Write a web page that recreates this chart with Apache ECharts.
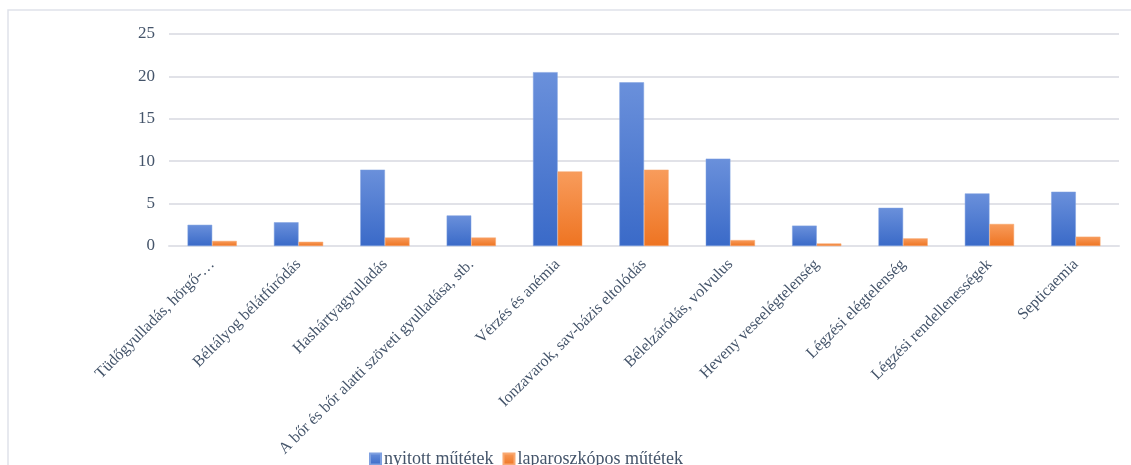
<!DOCTYPE html>
<html>
<head>
<meta charset="utf-8">
<script src="https://cdn.jsdelivr.net/npm/echarts@6/dist/echarts.min.js"></script>
<style>
html, body { margin: 0; padding: 0; background: #fff; }
#main { width: 1131px; height: 465px; }
</style>
</head>
<body>
<div id="main"></div>
<script>
var categories = [
    'Tüdőgyulladás, hörgő-…',
    'Béltályog bélátfúródás',
    'Hashártyagyulladás',
    'A bőr és bőr alatti szöveti gyulladása, stb.',
    'Vérzés és anémia',
    'Ionzavarok, sav-bázis eltolódás',
    'Bélelzáródás, volvulus',
    'Heveny veseelégtelenség',
    'Légzési elégtelenség',
    'Légzési rendellenességek',
    'Septicaemia'
];
var seriesNames = ['nyitott műtétek', 'laparoszkópos műtétek'];
var nyitott = [2.5, 2.8, 9.0, 3.6, 20.5, 19.3, 10.3, 2.4, 4.5, 6.2, 6.4];
var laparoszkopos = [0.6, 0.5, 1.0, 1.0, 8.8, 9.0, 0.7, 0.3, 0.9, 2.6, 1.1];
var yTicks = [0, 5, 10, 15, 20, 25];

var textColor = '#44546a';
var serif = '"Liberation Serif", "DejaVu Serif", serif';

var chart = echarts.init(document.getElementById('main'));

function grad(top, bottom) {
    return new echarts.graphic.LinearGradient(0, 0, 0, 1, [
        { offset: 0, color: top },
        { offset: 1, color: bottom }
    ]);
}

var option = {
    animation: false,
    backgroundColor: '#fff',
    graphic: [{
        type: 'rect',
        shape: { x: 8, y: 10, width: 1130, height: 470 },
        style: { fill: 'none', stroke: '#dfe2ea', lineWidth: 1.5 },
        silent: true
    }],
    legend: {
        left: 364,
        top: 445,
        itemWidth: 11,
        itemHeight: 11,
        itemGap: 9,
        icon: 'rect',
        textStyle: { color: textColor, fontFamily: serif, fontSize: 18, padding: [0, 0, 0, -2] },
        data: seriesNames
    },
    grid: {
        left: 169,
        right: 12,
        top: 34,
        bottom: 219
    },
    xAxis: {
        type: 'category',
        data: categories,
        axisLine: { lineStyle: { color: '#e1e2e8', width: 2 } },
        axisTick: { show: false },
        axisLabel: {
            rotate: 45,
            interval: 0,
            margin: 16,
            color: textColor,
            fontFamily: serif,
            fontSize: 16
        }
    },
    yAxis: {
        type: 'value',
        min: yTicks[0],
        max: yTicks[yTicks.length - 1],
        interval: 5,
        axisLine: { show: false },
        axisTick: { show: false },
        axisLabel: {
            color: textColor,
            fontFamily: serif,
            fontSize: 17,
            margin: 14
        },
        splitLine: { lineStyle: { color: '#e1e2e8', width: 2 } }
    },
    series: [
        {
            name: seriesNames[0],
            type: 'bar',
            data: nyitott,
            barGap: '0%',
            barCategoryGap: '43%',
            itemStyle: {
                color: grad('#6a90db', '#3a6ac8'),
                borderColor: '#7fa0e0',
                borderWidth: 0.5
            }
        },
        {
            name: seriesNames[1],
            type: 'bar',
            data: laparoszkopos,
            itemStyle: {
                color: grad('#f89c5c', '#ee7422'),
                borderColor: '#f9a870',
                borderWidth: 0.5
            }
        }
    ]
};

chart.setOption(option);
</script>
</body>
</html>
